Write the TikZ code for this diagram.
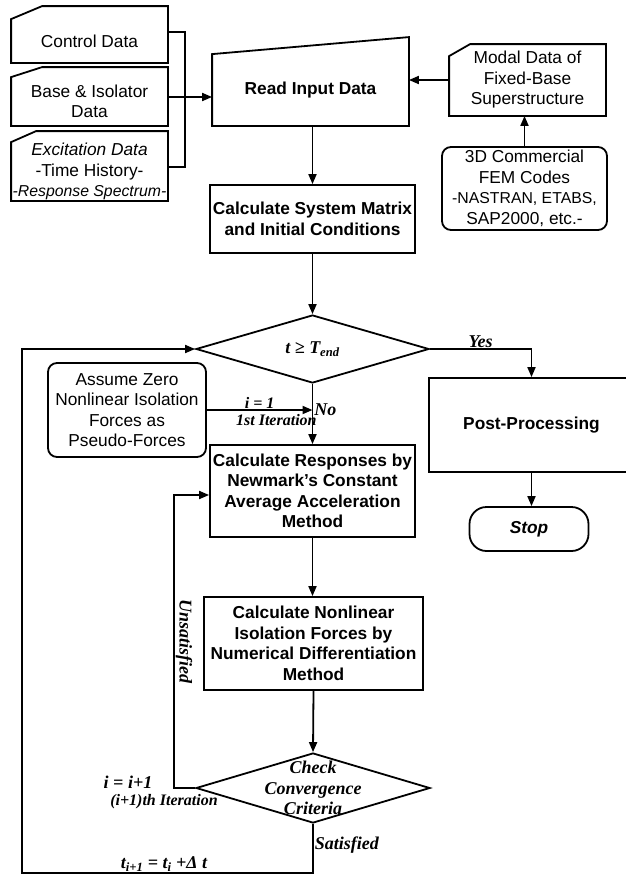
\documentclass[tikz,border=0pt]{standalone}
\usepackage{fontspec}
\setmainfont{Liberation Sans}
\newfontfamily\tnr{Liberation Serif}
\usetikzlibrary{arrows.meta,calc,shapes.geometric}
\begin{document}
\begin{tikzpicture}[x=1pt,y=-1pt,
  font=\fontsize{17.3}{20.5}\selectfont,
  line width=1.8pt,
  arr/.style={-{Triangle[length=10pt,width=8pt]}},
  box/.style={draw, rectangle, inner sep=1pt, align=center, font=\fontsize{17.3}{20.5}\selectfont\bfseries},
  inbox/.style={rectangle, inner sep=0pt, align=center},
  rbox/.style={draw, rectangle, rounded corners=9pt, inner sep=1pt, align=center},
  dia/.style={draw, diamond, inner sep=0pt},
  lab/.style={font=\fontsize{18}{20.5}\selectfont\tnr\bfseries\itshape, inner sep=1pt},
  slab/.style={font=\fontsize{16}{19}\selectfont\tnr\bfseries\itshape, inner sep=1pt},
]
\path[use as bounding box, clip] (0,0) rectangle (626,876);

% input data boxes
\node[inbox, minimum width=155pt, minimum height=42pt] (ctrl) at (89.5,41) {Control Data};
\draw (ctrl.south west) -- (ctrl.north west) -- ($(ctrl.north west)+(31,-13)$) -- ($(ctrl.north east)+(0,-13)$) -- (ctrl.south east) -- cycle;
\node[inbox, minimum width=155pt, minimum height=47pt] (base) at (89.5,101.5) {Base \& Isolator\\Data};
\draw (base.south west) -- (base.north west) -- ($(base.north west)+(31,-10)$) -- ($(base.north east)+(0,-10)$) -- (base.south east) -- cycle;
\node[inbox, minimum width=155pt, minimum height=57pt] (exc) at (89.5,171.5) {{\itshape Excitation Data}\\-Time History-\\{\fontsize{15.8}{20.5}\selectfont\itshape -Response Spectrum-}};
\draw (exc.south west) -- (exc.north west) -- ($(exc.north west)+(25,-11)$) -- ($(exc.north east)+(0,-11)$) -- (exc.south east) -- cycle;

\node[inbox, minimum width=195pt, minimum height=70pt, font=\fontsize{17.3}{20.5}\selectfont\bfseries] (read) at (310.5,90) {Read Input Data};
\draw (read.south west) -- (read.north west) -- ($(read.north east)+(0,-17)$) -- (read.south east) -- cycle;

\node[inbox, minimum width=155pt, minimum height=70pt] (modal) at (527.5,80) {Modal Data of\\Fixed-Base\\Superstructure};
\draw (modal.south west) -- ($(modal.north west)+(0,12)$) -- ($(modal.north west)+(21,0)$) -- (modal.north east) -- (modal.south east) -- cycle;

\node[rbox, minimum width=165pt, minimum height=83pt] (fem) at (524.5,188.5) {3D Commercial\\FEM Codes\\{\fontsize{15.8}{20.5}\selectfont -NASTRAN, ETABS,}\\SAP2000, etc.-};

\node[box, minimum width=205pt, minimum height=68pt] (sys) at (312.5,219) {Calculate System Matrix\\and Initial Conditions};

\node[dia, minimum width=233pt, minimum height=68pt, label={[lab]center:{t ≥ T\textsubscript{end}}}] (d1) at (312.5,349) {};

\node[box, minimum width=205pt, minimum height=94pt] (post) at (531.5,425) {Post-Processing};
\node[draw, rectangle, rounded corners=17pt, minimum width=119pt, minimum height=44pt, font=\fontsize{17.3}{20.5}\selectfont\bfseries\itshape] (stop) at (529,529) {Stop};

\node[rbox, minimum width=158pt, minimum height=94pt] (asm) at (127,410) {Assume Zero\\Nonlinear Isolation\\Forces as\\Pseudo-Forces};

\node[box, minimum width=205pt, minimum height=92pt] (resp) at (312.5,491) {Calculate Responses by\\Newmark's Constant\\Average Acceleration\\Method};

\node[box, minimum width=219pt, minimum height=93pt] (nl) at (313.5,643.5) {Calculate Nonlinear\\Isolation Forces by\\Numerical Differentiation\\Method};

\node[dia, minimum width=234pt, minimum height=70pt, label={[lab, align=center]center:{Check\\Convergence\\Criteria}}] (chk) at (313,788) {};

% connectors
\coordinate (j1) at (185,32);
\coordinate (j2) at (185,97);
\coordinate (j3) at (185,167);
\draw (ctrl.east |- j1) -- (j1) -- (j3) -- (exc.east |- j3);
\draw[arr] (base.east |- j2) -- (read.west |- j2);
\draw[arr] (modal.west) -- (modal.west -| read.east);
\draw[arr] (fem.north) -- (fem.north |- modal.south);
\draw[arr] (sys.north |- read.south) -- (sys.north);
\draw[arr] (sys.south) -- (d1.north);
\draw[arr] (d1.east) -| node[pos=0.25, above, lab, inner sep=0pt]{Yes} (post.north);
\draw[arr] (post.south) -- (post.south |- stop.north);
\draw[arr] (d1.south) -- node[pos=0.43, right, lab]{No} (resp.north);
\draw[arr] (asm.east) -- node[midway, above, slab]{i = 1} (asm.east -| d1.south)
  node[at end, anchor=north east, xshift=6pt, yshift=-2pt, slab]{1st Iteration};
\draw[arr] (resp.south) -- (resp.south |- nl.north);
\draw[arr] (nl.south) -- (chk.north);
\coordinate (ux) at (174,495);
\draw[arr] (chk.west) -| node[pos=0.75, rotate=-90, anchor=south, lab]{Unsatisfied} (ux) -- (ux -| resp.west);
\node[lab] (inc) at (128,782) {i = i+1};
\node[slab] (ith) at (164,802) {(i+1)th Iteration};
\coordinate (lb) at (22,873);
\draw[arr] (chk.south) |- node[pos=0.22, right, lab]{Satisfied} node[pos=0.756, above, lab]{t\textsubscript{i+1} = t\textsubscript{i} +Δ t} (lb) |- (d1.west);
\end{tikzpicture}
\end{document}
